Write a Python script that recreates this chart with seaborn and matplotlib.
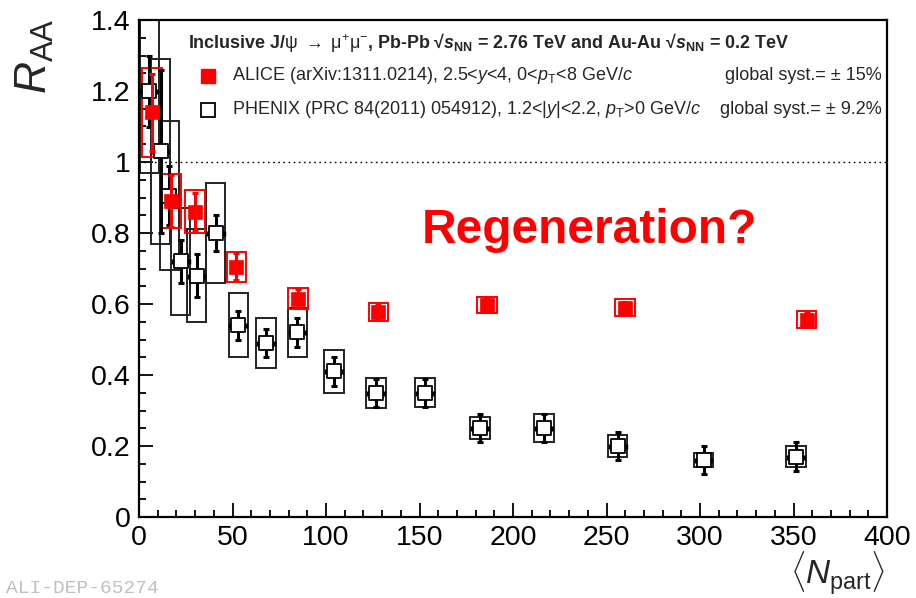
import matplotlib
matplotlib.use("Agg")
import matplotlib.pyplot as plt
from matplotlib.patches import Rectangle
from matplotlib.ticker import MultipleLocator
import pandas as pd
import seaborn as sns

# ALICE, Pb-Pb 2.76 TeV, 2.5<y<4
alice_npart = [7, 17, 30, 52, 85, 128, 186, 260, 357]
alice_raa = [1.14, 0.89, 0.86, 0.705, 0.615, 0.577, 0.597, 0.589, 0.556]
alice_stat = [0.108, 0.072, 0.054, 0.038, 0.027, 0.02, 0.02, 0.018, 0.018]
alice_syst = [0.125, 0.075, 0.061, 0.042, 0.030, 0.026, 0.022, 0.024, 0.025]

# PHENIX, Au-Au 0.2 TeV, 1.2<|y|<2.2
phenix_npart = [5.5, 11.5, 16.2, 22.3, 30.8, 41.0, 53.1, 67.9, 84.7, 104.3,
                126.7, 152.9, 182.4, 216.6, 256.0, 301.9, 351.3]
phenix_raa = [1.20, 1.03, 0.905, 0.72, 0.68, 0.80, 0.54, 0.49, 0.52, 0.41,
              0.35, 0.35, 0.25, 0.25, 0.20, 0.16, 0.17]
phenix_stat = [0.10, 0.23, 0.083, 0.06, 0.06, 0.05, 0.04, 0.04, 0.04, 0.04,
               0.04, 0.04, 0.04, 0.04, 0.04, 0.04, 0.04]
phenix_syst = [0.23, 0.26, 0.21, 0.15, 0.13, 0.14, 0.09, 0.07, 0.07, 0.061,
               0.042, 0.041, 0.031, 0.04, 0.03, 0.02, 0.03]

x_ticks = [0, 50, 100, 150, 200, 250, 300, 350, 400]
y_ticks = [0, 0.2, 0.4, 0.6, 0.8, 1.0, 1.2, 1.4]
y_tick_labels = ["0", "0.2", "0.4", "0.6", "0.8", "1", "1.2", "1.4"]

alice = pd.DataFrame({"npart": alice_npart, "raa": alice_raa,
                      "stat": alice_stat, "syst": alice_syst})
phenix = pd.DataFrame({"npart": phenix_npart, "raa": phenix_raa,
                       "stat": phenix_stat, "syst": phenix_syst})

sns.set_theme(style="ticks")
plt.rcParams.update({
    "font.family": ["Liberation Sans", "DejaVu Sans"],
    "mathtext.fontset": "custom",
    "mathtext.rm": "Liberation Sans",
    "mathtext.it": "Liberation Sans:italic",
    "mathtext.bf": "Liberation Sans:bold",
    "mathtext.bfit": "Liberation Sans:italic:bold",
    "mathtext.sf": "Liberation Sans",
})

W, H = 916, 598
fig = plt.figure(figsize=(W / 100, H / 100), dpi=100)
ax = fig.add_axes([139 / W, 81 / H, 748 / W, 497 / H])

RED = "#ff0000"
DARK = "#222222"
BOX_HALF = 5.2

# systematic boxes
for _, r in phenix.iterrows():
    ax.add_patch(Rectangle((r.npart - BOX_HALF, r.raa - r.syst), 2 * BOX_HALF,
                           2 * r.syst, fill=False, edgecolor=DARK, lw=1.4, zorder=2))
for _, r in alice.iterrows():
    ax.add_patch(Rectangle((r.npart - BOX_HALF, r.raa - r.syst), 2 * BOX_HALF,
                           2 * r.syst, fill=False, edgecolor=RED, lw=1.4, zorder=3))

# statistical errors
ax.errorbar(phenix.npart, phenix.raa, yerr=phenix.stat, fmt="none", ecolor="black",
            elinewidth=2.2, capsize=2.5, capthick=2.2, zorder=4)
ax.errorbar(phenix.npart, phenix.raa, xerr=4.2, fmt="none", ecolor="black",
            elinewidth=1.0, capsize=1.8, capthick=2.5, zorder=4)
ax.errorbar(alice.npart, alice.raa, yerr=alice.stat, fmt="none", ecolor=RED,
            elinewidth=2.2, capsize=2.5, capthick=2.2, zorder=6)

# markers
sns.scatterplot(data=phenix, x="npart", y="raa", marker="s", s=105, color="white",
                edgecolor="black", linewidth=1.3, zorder=5, ax=ax, legend=False)
sns.scatterplot(data=alice, x="npart", y="raa", marker="s", s=95, color=RED,
                edgecolor=RED, linewidth=0.5, zorder=7, ax=ax, legend=False)

ax.axhline(1.0, color="black", lw=1.0, ls=(0, (1.2, 2.5)), zorder=1)

ax.set_xlim(0, 400)
ax.set_ylim(0, 1.4)
ax.set_xticks(x_ticks)
ax.set_xticklabels([str(v) for v in x_ticks])
ax.set_yticks(y_ticks)
ax.set_yticklabels(y_tick_labels)
ax.xaxis.set_minor_locator(MultipleLocator(10))
ax.yaxis.set_minor_locator(MultipleLocator(0.05))
ax.tick_params(which="both", direction="in", top=False, right=False, width=1.3,
               color="black")
ax.tick_params(which="major", length=10, labelsize=20.5, pad=6, labelcolor="black")
ax.tick_params(which="minor", length=5)
for sp in ax.spines.values():
    sp.set_linewidth(1.6)
    sp.set_color("black")
ax.set_xlabel("")
ax.set_ylabel("")

fig.text(35 / W, 1 - 18 / H, r"$R_{\rm AA}$", rotation=90, ha="center", va="top",
         fontsize=32)
fig.text(885 / W, 13 / H, r"$\langle N_{\rm part}\rangle$", ha="right",
         va="baseline", fontsize=24)
fig.text(6 / W, 5 / H, "ALI-DEP-65274", color="#c0c0c0",
         family="Liberation Mono", fontsize=14, va="baseline", ha="left")

# legend block
ax.text(0.0655, 0.954,
        r"Inclusive J/$\mathrm{\psi}$ $\rightarrow$ $\mathrm{\mu}^{+}\mathrm{\mu}^{-}$, Pb-Pb "
        "\u221a" r"$\mathbfit{s}_{\mathbf{NN}}$ = 2.76 TeV and Au-Au "
        "\u221a" r"$\mathbfit{s}_{\mathbf{NN}}$ = 0.2 TeV",
        transform=ax.transAxes, fontsize=12.9, fontweight="bold", va="center",
        ha="left")
ax.plot([0.0922], [0.887], marker="s", ms=10, color=RED, transform=ax.transAxes,
        clip_on=False)
ax.plot([0.0922], [0.818], marker="s", ms=10, mfc="white", mec="black", mew=1.3,
        transform=ax.transAxes, clip_on=False)
ax.text(0.1243, 0.889,
        r"ALICE (arXiv:1311.0214), 2.5<$y$<4, 0<$p_{\rm T}$<8 GeV/$c$",
        transform=ax.transAxes, fontsize=13, va="center", ha="left")
ax.text(0.1243, 0.820,
        r"PHENIX (PRC 84(2011) 054912), 1.2<|$y$|<2.2, $p_{\rm T}$>0 GeV/$c$",
        transform=ax.transAxes, fontsize=13, va="center", ha="left")
ax.text(0.993, 0.889, "global syst.= \u00b1 15%", transform=ax.transAxes,
        fontsize=13, va="center", ha="right")
ax.text(0.993, 0.820, "global syst.= \u00b1 9.2%", transform=ax.transAxes,
        fontsize=13, va="center", ha="right")

ax.text(0.602, 0.577, "Regeneration?", transform=ax.transAxes, color=RED,
        fontsize=34.5, fontweight="bold", ha="center", va="center")

fig.savefig("out.png", dpi=100)
